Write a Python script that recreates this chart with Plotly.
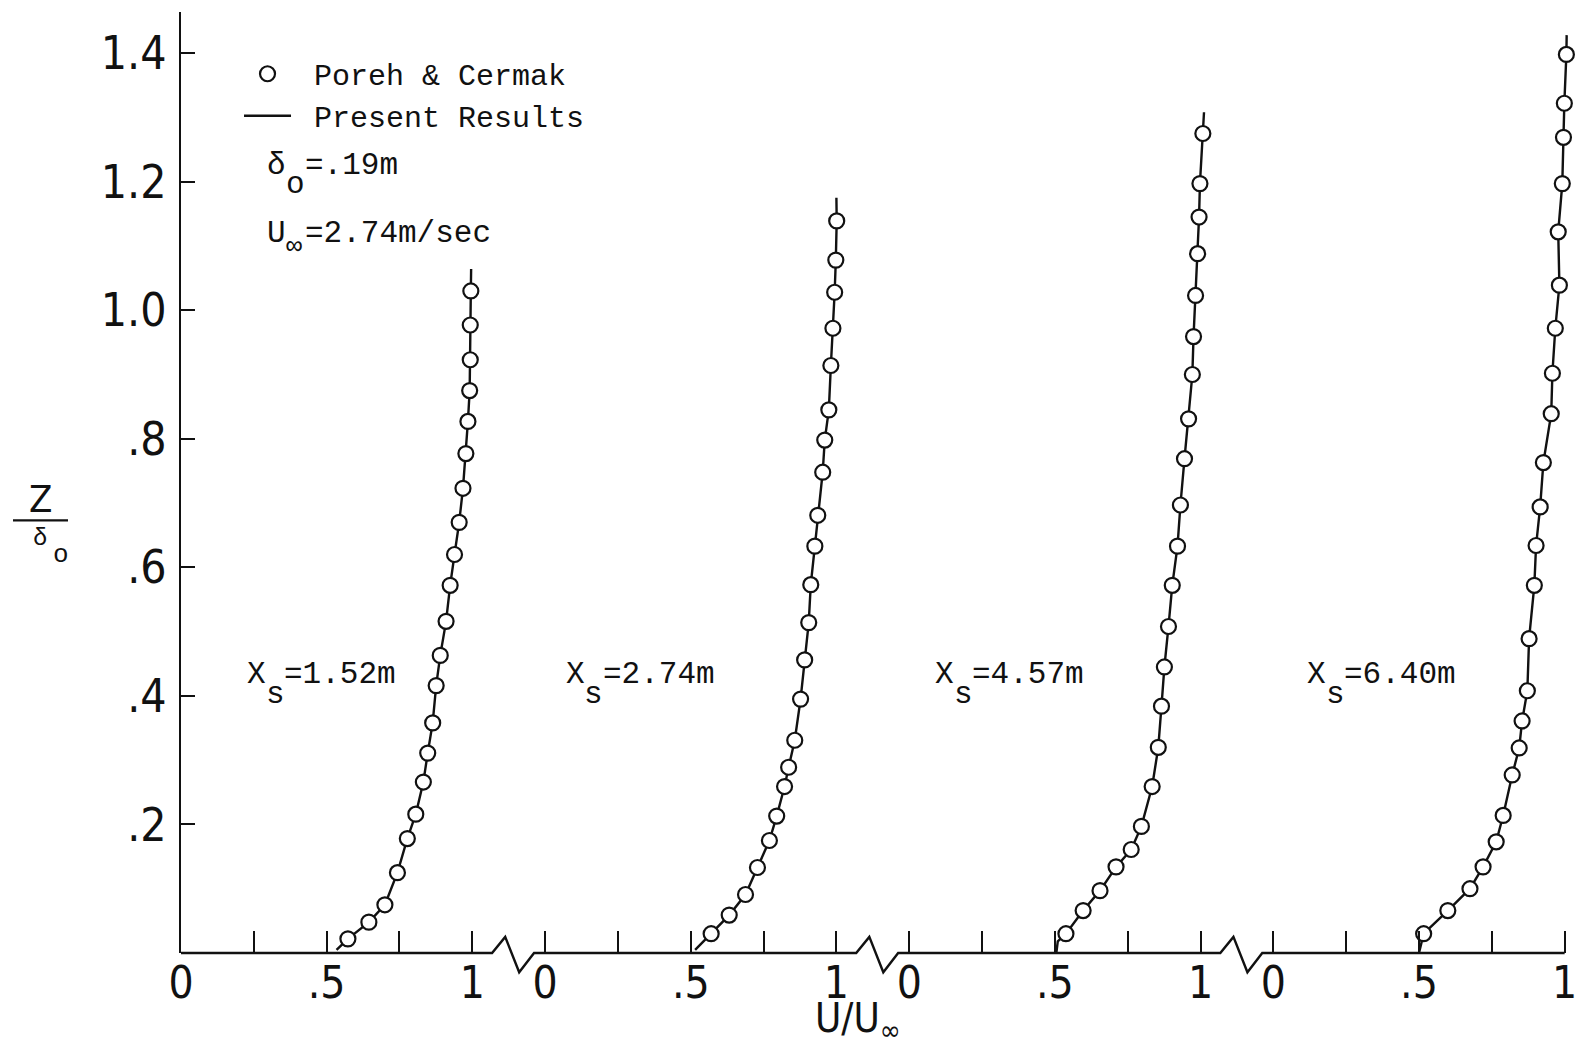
import plotly.graph_objects as go

# Four measuring stations share one abscissa: each panel spans U/U_inf = 0..1,
# successive panels start 1.25 apart and the axis is broken between them.
panel_offsets = [0.0, 1.25, 2.5, 3.75]
station_labels = ["1.52m", "2.74m", "4.57m", "6.40m"]
station_label_u = [0.224, 0.067, 0.086, 0.112]
station_label_z = 0.433

# Poreh & Cermak measurements, bottom to top (U/U_inf, Z/delta_o)
u_152 = [0.573, 0.645, 0.700, 0.743, 0.777, 0.806, 0.832, 0.847, 0.864, 0.876, 0.890,
         0.910, 0.924, 0.939, 0.955, 0.968, 0.978, 0.985, 0.991, 0.993, 0.993, 0.995]
z_152 = [0.022, 0.048, 0.075, 0.125, 0.178, 0.216, 0.266, 0.311, 0.358, 0.416, 0.463,
         0.516, 0.572, 0.620, 0.670, 0.723, 0.777, 0.827, 0.875, 0.923, 0.977, 1.030]

u_274 = [0.570, 0.632, 0.688, 0.729, 0.770, 0.795, 0.822, 0.836, 0.857, 0.877, 0.891, 0.905,
         0.912, 0.926, 0.936, 0.953, 0.960, 0.974, 0.981, 0.988, 0.994, 0.998, 1.001]
z_274 = [0.030, 0.059, 0.091, 0.133, 0.175, 0.213, 0.259, 0.289, 0.331, 0.395, 0.456, 0.514,
         0.573, 0.633, 0.681, 0.748, 0.798, 0.845, 0.914, 0.972, 1.028, 1.078, 1.139]

u_457 = [0.538, 0.597, 0.655, 0.710, 0.762, 0.797, 0.834, 0.855, 0.866, 0.876, 0.890, 0.903,
         0.921, 0.931, 0.945, 0.959, 0.972, 0.976, 0.983, 0.990, 0.995, 0.998, 1.008]
z_457 = [0.030, 0.066, 0.097, 0.134, 0.161, 0.197, 0.259, 0.320, 0.384, 0.445, 0.508, 0.572,
         0.633, 0.697, 0.769, 0.831, 0.900, 0.959, 1.023, 1.088, 1.145, 1.197, 1.275]

u_640 = [0.516, 0.599, 0.675, 0.720, 0.765, 0.789, 0.820, 0.844, 0.854, 0.872, 0.878, 0.896,
         0.902, 0.916, 0.927, 0.954, 0.958, 0.968, 0.982, 0.978, 0.992, 0.996, 0.999, 1.006]
z_640 = [0.030, 0.066, 0.100, 0.134, 0.173, 0.214, 0.277, 0.319, 0.361, 0.408, 0.489, 0.572,
         0.634, 0.694, 0.763, 0.839, 0.902, 0.972, 1.039, 1.122, 1.197, 1.269, 1.322, 1.398]

# Present (computed) profiles, bottom to top
u_152_calc = [0.534, 0.573, 0.645, 0.700, 0.743, 0.777, 0.806, 0.832, 0.847, 0.864, 0.876, 0.890,
              0.910, 0.924, 0.939, 0.955, 0.968, 0.978, 0.985, 0.991, 0.993, 0.993, 0.995, 0.996]
z_152_calc = [0.005, 0.022, 0.048, 0.075, 0.125, 0.178, 0.216, 0.266, 0.311, 0.358, 0.416, 0.463,
              0.516, 0.572, 0.620, 0.670, 0.723, 0.777, 0.827, 0.875, 0.923, 0.977, 1.030, 1.064]

u_274_calc = [0.515, 0.570, 0.632, 0.688, 0.729, 0.770, 0.795, 0.822, 0.836, 0.857, 0.877, 0.891,
              0.905, 0.912, 0.926, 0.936, 0.953, 0.960, 0.974, 0.981, 0.988, 0.994, 0.998, 1.001, 1.000]
z_274_calc = [0.005, 0.030, 0.059, 0.091, 0.133, 0.175, 0.213, 0.259, 0.289, 0.331, 0.395, 0.456,
              0.514, 0.573, 0.633, 0.681, 0.748, 0.798, 0.845, 0.914, 0.972, 1.028, 1.078, 1.139, 1.175]

u_457_calc = [0.505, 0.510, 0.538, 0.597, 0.655, 0.710, 0.762, 0.797, 0.834, 0.855, 0.866, 0.876,
              0.890, 0.903, 0.921, 0.931, 0.945, 0.959, 0.972, 0.976, 0.983, 0.990, 0.995, 0.998,
              1.008, 1.012]
z_457_calc = [0.000, 0.018, 0.030, 0.066, 0.097, 0.134, 0.161, 0.197, 0.259, 0.320, 0.384, 0.445,
              0.508, 0.572, 0.633, 0.697, 0.769, 0.831, 0.900, 0.959, 1.023, 1.088, 1.145, 1.197,
              1.275, 1.308]

u_640_calc = [0.500, 0.516, 0.599, 0.675, 0.720, 0.765, 0.789, 0.820, 0.844, 0.854, 0.872, 0.878,
              0.896, 0.902, 0.916, 0.927, 0.954, 0.958, 0.968, 0.982, 0.978, 0.992, 0.996, 0.999,
              1.006, 1.007]
z_640_calc = [0.000, 0.030, 0.066, 0.100, 0.134, 0.173, 0.214, 0.277, 0.319, 0.361, 0.408, 0.489,
              0.572, 0.634, 0.694, 0.763, 0.839, 0.902, 0.972, 1.039, 1.122, 1.197, 1.269, 1.322,
              1.398, 1.428]

measured = [(u_152, z_152), (u_274, z_274), (u_457, z_457), (u_640, z_640)]
computed = [(u_152_calc, z_152_calc), (u_274_calc, z_274_calc),
            (u_457_calc, z_457_calc), (u_640_calc, z_640_calc)]

x_major_unit = [0.0, 0.5, 1.0]
x_major_text = ["0", ".5", "1"]
x_minor_unit = [0.25, 0.75]
y_tick_vals = [0.2, 0.4, 0.6, 0.8, 1.0, 1.2, 1.4]
y_tick_text = [".2", ".4", ".6", ".8", "1.0", "1.2", "1.4"]

X_MAX = 4.765
Y_MAX = 1.464

# Axis-break zigzag, relative to the end of a panel (x) and the axis (y)
break_dx = [0.068, 0.113, 0.161, 0.212]
break_dy = [0.0, 0.025, -0.030, 0.0]

INK = "#111111"
MONO = "Liberation Mono, DejaVu Sans Mono, monospace"
NARROW = "DejaVu Sans Condensed, Liberation Sans Narrow, Arial Narrow, sans-serif"
CHAR = 18.6  # advance of one monospace character at size 31

fig = go.Figure()

# computed profiles (drawn first so the open symbols sit on top)
for k, (off, (uc, zc)) in enumerate(zip(panel_offsets, computed)):
    fig.add_trace(go.Scatter(
        x=[off + u for u in uc], y=zc, mode="lines",
        line=dict(color=INK, width=2.4),
        name="\u00a0Present Results", legendgroup="calc", legendrank=2,
        showlegend=(k == 0), hoverinfo="skip"))

for k, (off, (um, zm)) in enumerate(zip(panel_offsets, measured)):
    fig.add_trace(go.Scatter(
        x=[off + u for u in um], y=zm, mode="markers",
        marker=dict(symbol="circle", size=15, color="white",
                    line=dict(color=INK, width=2.2)),
        name="\u00a0Poreh & Cermak", legendgroup="meas", legendrank=1,
        showlegend=(k == 0), cliponaxis=False))


def xp(x):
    return x / X_MAX


def yp(y):
    return y / Y_MAX


# broken abscissa line drawn as one path
pts = [(0.0, 0.0)]
for off in panel_offsets[:-1]:
    end = off + 1.0
    for dx, dy in zip(break_dx, break_dy):
        pts.append((end + dx, dy))
pts.append((panel_offsets[-1] + 1.0, 0.0))
path = "M " + " L ".join(f"{xp(x):.5f},{yp(y):.5f}" for x, y in pts)
shapes = [dict(type="path", xref="paper", yref="paper", path=path,
               line=dict(color=INK, width=2.4))]

annotations = []


def subscripted(x, y, base, sub, rest, sub_size=31, sub_drop=-20):
    """Base symbol, a lowered subscript one character to the right, then the rest."""
    common = dict(x=x, y=y, xref="x", yref="y", showarrow=False, xanchor="left",
                  yanchor="middle", borderpad=0)
    return [
        dict(common, text=base, font=dict(family=MONO, size=31, color=INK)),
        dict(common, text=sub, xshift=CHAR, yshift=sub_drop,
             font=dict(family=MONO, size=sub_size, color=INK)),
        dict(common, text=rest, xshift=2 * CHAR, font=dict(family=MONO, size=31, color=INK)),
    ]


# station labels  X_s = ...
for off, lab, du in zip(panel_offsets, station_labels, station_label_u):
    annotations += subscripted(off + du, station_label_z, "X", "s", "=" + lab)

# flow parameters
param_u = 0.293
annotations += subscripted(param_u, 1.225, "\u03b4", "o", "=.19m", sub_drop=-19)
annotations += subscripted(param_u, 1.119, "U", "\u221e", "=2.74m/sec", sub_size=27, sub_drop=-13)

# ordinate title  Z / delta_o, stacked on a fraction bar
bar_z = 0.673
annotations += [
    dict(x=0, y=bar_z, xref="paper", yref="y", xshift=-141, yshift=-2, text="Z",
         showarrow=False, xanchor="center", yanchor="bottom", borderpad=0,
         font=dict(family=NARROW, size=38, color=INK)),
    dict(x=0, y=bar_z, xref="paper", yref="y", xshift=-141, yshift=-4, text="\u03b4",
         showarrow=False, xanchor="center", yanchor="top", borderpad=0,
         font=dict(family=MONO, size=24, color=INK)),
    dict(x=0, y=bar_z, xref="paper", yref="y", xshift=-120, yshift=-19, text="o",
         showarrow=False, xanchor="center", yanchor="top", borderpad=0,
         font=dict(family=MONO, size=26, color=INK)),
]
shapes.append(dict(type="line", xref="paper", yref="y", x0=-168 / 1388, x1=-113 / 1388,
                   y0=bar_z, y1=bar_z, line=dict(color=INK, width=2.4)))

# abscissa title  U/U_inf
annotations.append(dict(x=0.488, y=0, xref="paper", yref="paper", yshift=-41,
                        text="U/U<sub>\u221e</sub>", showarrow=False,
                        xanchor="center", yanchor="top", borderpad=0,
                        font=dict(family=NARROW, size=40, color=INK)))

tick_vals, tick_text, minor_vals = [], [], []
for off in panel_offsets:
    for t, s in zip(x_major_unit, x_major_text):
        tick_vals.append(off + t)
        tick_text.append(s)
    minor_vals += [off + t for t in x_minor_unit]

fig.update_layout(
    width=1575, height=1047,
    margin=dict(l=181, r=6, t=12, b=94, autoexpand=False),
    paper_bgcolor="white", plot_bgcolor="white",
    showlegend=True,
    legend=dict(x=0.0418, y=0.962, xanchor="left", yanchor="top",
                bgcolor="rgba(0,0,0,0)", borderwidth=0, itemwidth=47,
                font=dict(family=MONO, size=30, color=INK), tracegroupgap=0),
    xaxis=dict(range=[0, X_MAX], showgrid=False, zeroline=False, showline=False,
               automargin=False,
               ticks="inside", ticklen=22, tickwidth=2, tickcolor=INK,
               tickmode="array", tickvals=tick_vals, ticktext=tick_text,
               minor=dict(tickmode="array", tickvals=minor_vals, ticks="inside",
                          ticklen=22, tickwidth=2, tickcolor=INK, showgrid=False),
               ticklabeloverflow="allow",
               tickfont=dict(family=NARROW, size=44, color=INK), ticklabelstandoff=0),
    yaxis=dict(range=[0, Y_MAX], showgrid=False, zeroline=False, showline=True,
               automargin=False,
               linecolor=INK, linewidth=2.4,
               ticks="inside", ticklen=14, tickwidth=2, tickcolor=INK,
               tickmode="array", tickvals=y_tick_vals, ticktext=y_tick_text,
               tickfont=dict(family=NARROW, size=46, color=INK), ticklabelstandoff=3),
    shapes=shapes,
    annotations=annotations,
)

fig.write_html("out.html")
